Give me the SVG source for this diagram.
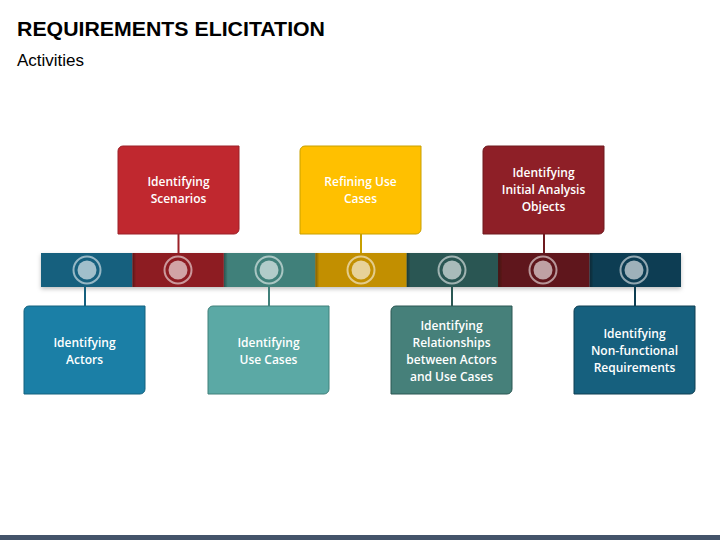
<svg xmlns="http://www.w3.org/2000/svg" width="720" height="540" viewBox="0 0 720 540">
<defs>
<style>
.title{font-family:"Liberation Sans",Arial,sans-serif;font-weight:bold;font-size:21px;fill:#000}
.sub{font-family:"Liberation Sans",Arial,sans-serif;font-size:17px;fill:#000}
.lbl{font-family:"Open Sans","Liberation Sans",sans-serif;font-size:12px;font-weight:600;fill:#fff;text-anchor:middle}
.ring{fill:none;stroke:#fff;stroke-opacity:0.55;stroke-width:2}
.dot{fill:#fff;fill-opacity:0.6}
.conn line{stroke-width:2}
</style>
<path id="box" d="M5,0 H121 V83 A5,5 0 0 1 116,88 H0 V5 A5,5 0 0 1 5,0 Z"/>
<linearGradient id="lsh" x1="0" x2="1" y1="0" y2="0">
<stop offset="0" stop-color="#000" stop-opacity="0.35"/>
<stop offset="1" stop-color="#000" stop-opacity="0"/>
</linearGradient>
<filter id="ds" x="-5%" y="-30%" width="110%" height="170%">
<feDropShadow dx="0" dy="2" stdDeviation="2" flood-color="#000" flood-opacity="0.25"/>
</filter>
</defs>
<rect width="720" height="540" fill="#fff"/>
<text class="title" x="17" y="36" textLength="308" lengthAdjust="spacingAndGlyphs">REQUIREMENTS ELICITATION</text>
<text class="sub" x="17" y="66">Activities</text>

<g id="bar" filter="url(#ds)">
<rect x="41" y="253" width="91.5" height="34" fill="#16607E"/>
<rect x="132.4" y="253" width="91.5" height="34" fill="#8D1F24"/>
<rect x="223.9" y="253" width="91.5" height="34" fill="#41807A"/>
<rect x="315.3" y="253" width="91.5" height="34" fill="#C28F00"/>
<rect x="406.7" y="253" width="91.5" height="34" fill="#2A5753"/>
<rect x="498.1" y="253" width="91.5" height="34" fill="#5E171A"/>
<rect x="589.6" y="253" width="91.4" height="34" fill="#0E3E52"/>
<rect x="132.4" y="253" width="4" height="34" fill="url(#lsh)"/>
<rect x="223.9" y="253" width="4" height="34" fill="url(#lsh)"/>
<rect x="315.3" y="253" width="4" height="34" fill="url(#lsh)"/>
<rect x="406.7" y="253" width="4" height="34" fill="url(#lsh)"/>
<rect x="498.1" y="253" width="4" height="34" fill="url(#lsh)"/>
<rect x="589.6" y="253" width="4" height="34" fill="url(#lsh)"/>
</g>
<g id="markers">
<circle class="ring" cx="87" cy="270" r="13.5"/><circle class="dot" cx="87" cy="270" r="9.5"/>
<circle class="ring" cx="178" cy="270" r="13.5"/><circle class="dot" cx="178" cy="270" r="9.5"/>
<circle class="ring" cx="269" cy="270" r="13.5"/><circle class="dot" cx="269" cy="270" r="9.5"/>
<circle class="ring" cx="361" cy="270" r="13.5"/><circle class="dot" cx="361" cy="270" r="9.5"/>
<circle class="ring" cx="452" cy="270" r="13.5"/><circle class="dot" cx="452" cy="270" r="9.5"/>
<circle class="ring" cx="543" cy="270" r="13.5"/><circle class="dot" cx="543" cy="270" r="9.5"/>
<circle class="ring" cx="634" cy="270" r="13.5"/><circle class="dot" cx="634" cy="270" r="9.5"/>
</g>

<g id="connectors" class="conn">
<line x1="178.5" y1="234" x2="178.5" y2="253" stroke="#9B2128"/>
<line x1="361" y1="234" x2="361" y2="253" stroke="#C8A000"/>
<line x1="544" y1="234" x2="544" y2="253" stroke="#6E1A1F"/>
<line x1="85" y1="287" x2="85" y2="306" stroke="#16607E"/>
<line x1="269" y1="287" x2="269" y2="306" stroke="#41807A"/>
<line x1="452" y1="287" x2="452" y2="306" stroke="#2A5753"/>
<line x1="635" y1="287" x2="635" y2="306" stroke="#0E3E52"/>
</g>

<g id="n-scenarios">
<use href="#box" x="118" y="146" fill="#C0282F" stroke="#9B2128" stroke-width="1"/>
<text class="lbl"><tspan x="178.5" y="186">Identifying</tspan><tspan x="178.5" y="203">Scenarios</tspan></text>
</g>
<g id="n-refining">
<use href="#box" x="300" y="146" fill="#FFC000" stroke="#C8A000" stroke-width="1"/>
<text class="lbl"><tspan x="360.5" y="186">Refining Use</tspan><tspan x="360.5" y="203">Cases</tspan></text>
</g>
<g id="n-objects">
<use href="#box" x="483" y="146" fill="#8E1F27" stroke="#6E1A1F" stroke-width="1"/>
<text class="lbl"><tspan x="543.5" y="177">Identifying</tspan><tspan x="543.5" y="194">Initial Analysis</tspan><tspan x="543.5" y="211">Objects</tspan></text>
</g>
<g id="n-actors">
<use href="#box" x="24" y="306" fill="#1B7FA6" stroke="#15637F" stroke-width="1"/>
<text class="lbl"><tspan x="84.5" y="347">Identifying</tspan><tspan x="84.5" y="364">Actors</tspan></text>
</g>
<g id="n-usecases">
<use href="#box" x="208" y="306" fill="#5BA9A5" stroke="#41807A" stroke-width="1"/>
<text class="lbl"><tspan x="268.5" y="347">Identifying</tspan><tspan x="268.5" y="364">Use Cases</tspan></text>
</g>
<g id="n-relationships">
<use href="#box" x="391" y="306" fill="#46807A" stroke="#2A5753" stroke-width="1"/>
<text class="lbl"><tspan x="451.5" y="330">Identifying</tspan><tspan x="451.5" y="347">Relationships</tspan><tspan x="451.5" y="364">between Actors</tspan><tspan x="451.5" y="381">and Use Cases</tspan></text>
</g>
<g id="n-nonfunctional">
<use href="#box" x="574" y="306" fill="#16607E" stroke="#0E3E52" stroke-width="1"/>
<text class="lbl"><tspan x="634.5" y="338">Identifying</tspan><tspan x="634.5" y="355">Non-functional</tspan><tspan x="634.5" y="372">Requirements</tspan></text>
</g>

<rect x="0" y="535" width="720" height="5" fill="#44546A"/>
</svg>
